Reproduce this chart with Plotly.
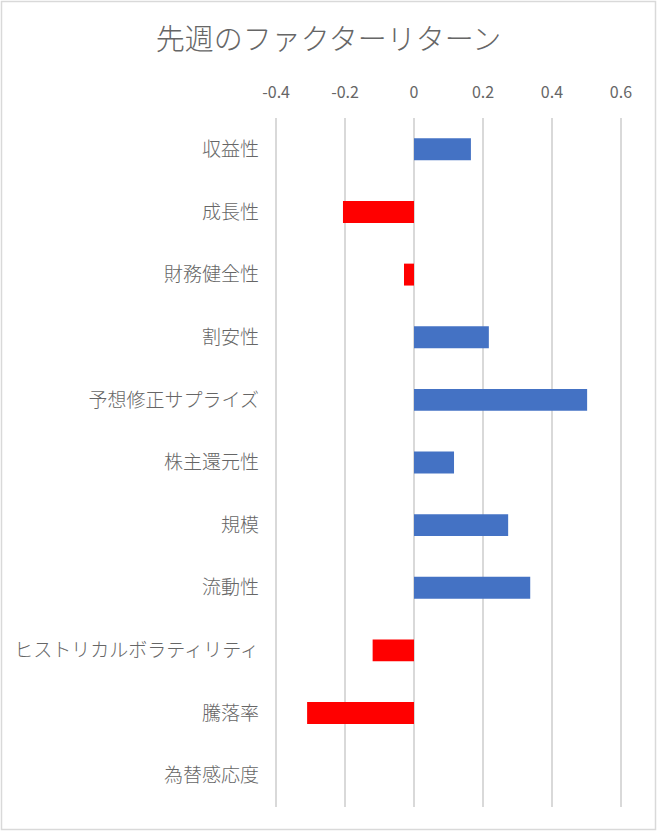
import plotly.graph_objects as go

categories = ["収益性", "成長性", "財務健全性", "割安性", "予想修正サプライズ", "株主還元性",
              "規模", "流動性", "ヒストリカルボラティリティ", "騰落率", "為替感応度"]
returns = [0.165, -0.206, -0.029, 0.217, 0.502, 0.116, 0.273, 0.337, -0.120, -0.310, 0.0]
tick_vals = [-0.4, -0.2, 0, 0.2, 0.4, 0.6]
tick_text = ["-0.4", "-0.2", "0", "0.2", "0.4", "0.6"]
title_text = "先週のファクターリターン"

POS = "#4472C4"
NEG = "#FF0000"
colors = [POS if v >= 0 else NEG for v in returns]

W, H = 657, 831
L, R, T, B = 274, 34, 118, 24
FONT = "Noto Sans CJK JP"
GRAY = "#666666"

fig = go.Figure(go.Bar(
    x=returns, y=categories, orientation="h",
    marker=dict(color=colors, line=dict(width=0)),
    width=0.35,
))

pw, ph = W - L - R, H - T - B
fig.add_shape(type="rect", xref="paper", yref="paper",
              x0=(1.5 - L) / pw, x1=(W - 1.5 - L) / pw,
              y0=-(B - 1.5) / ph, y1=1 + (T - 1.5) / ph,
              line=dict(color="#D9D9D9", width=1.5), layer="below")

fig.update_layout(
    width=W, height=H,
    margin=dict(l=L, r=R, t=T, b=B, pad=0),
    paper_bgcolor="white", plot_bgcolor="white",
    showlegend=False,
    font=dict(family=FONT, color=GRAY),
    title=dict(text=title_text, x=0.5, xref="container", xanchor="center",
               y=1 - 40 / H, yref="container", yanchor="middle",
               font=dict(size=29, color=GRAY, family=FONT, weight=300)),
    xaxis=dict(side="top", range=[-0.406, 0.606], tickvals=tick_vals, ticktext=tick_text,
               showgrid=True, gridcolor="#D9D9D9", gridwidth=1.5, zeroline=False,
               showline=False, ticks="", tickfont=dict(size=16, color=GRAY),
               ticklabelstandoff=16, fixedrange=True),
    yaxis=dict(categoryorder="array", categoryarray=categories,
               showgrid=False, zeroline=False, showline=False, ticks="",
               tickfont=dict(size=19, color=GRAY, weight=300), ticklabelstandoff=14,
               range=[len(categories) - 0.5, -0.5], fixedrange=True),
)

fig.write_html("out.html", config={"displayModeBar": False},
               post_script="document.body.style.margin='0';")
